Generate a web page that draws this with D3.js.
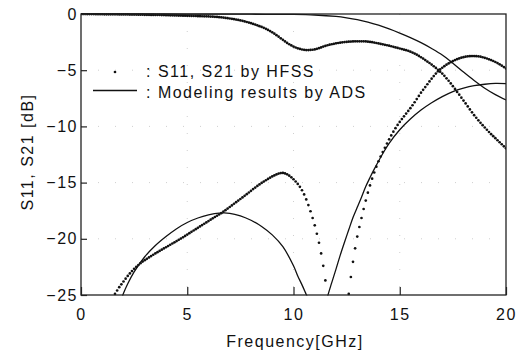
<!DOCTYPE html>
<html><head><meta charset="utf-8">
<script src="https://cdn.jsdelivr.net/npm/d3@7"></script>
<style>body{margin:0;background:#fff}svg{display:block}</style>
</head><body><svg id="c" width="526" height="354"></svg>
<script>
// ---- tick labels ----
const xTicks = [0, 5, 10, 15, 20];
const yTicks = [0, -5, -10, -15, -20, -25];

// ---- HFSS sweep (dots), 0.1 GHz step ----
const hfssStep = 0.1;
const hfssS21Start = 0.0;
const hfssS21 = [
  0, 0, 0, -0.01, -0.01, -0.01, -0.01, -0.02, -0.02, -0.02,
  -0.02, -0.03, -0.03, -0.03, -0.03, -0.03, -0.03, -0.03, -0.04, -0.04,
  -0.04, -0.04, -0.04, -0.05, -0.05, -0.05, -0.05, -0.06, -0.06, -0.06,
  -0.07, -0.07, -0.07, -0.08, -0.08, -0.09, -0.09, -0.09, -0.1, -0.1,
  -0.11, -0.11, -0.12, -0.12, -0.13, -0.13, -0.14, -0.14, -0.15, -0.15,
  -0.16, -0.16, -0.17, -0.18, -0.18, -0.19, -0.19, -0.2, -0.21, -0.21,
  -0.22, -0.23, -0.24, -0.25, -0.26, -0.28, -0.3, -0.32, -0.35, -0.37,
  -0.4, -0.43, -0.46, -0.5, -0.53, -0.57, -0.61, -0.66, -0.71, -0.76,
  -0.82, -0.88, -0.94, -1.01, -1.08, -1.15, -1.23, -1.32, -1.42, -1.52,
  -1.63, -1.75, -1.88, -2.02, -2.16, -2.3, -2.44, -2.57, -2.69, -2.8,
  -2.9, -2.98, -3.05, -3.11, -3.16, -3.19, -3.21, -3.21, -3.2, -3.18,
  -3.15, -3.1, -3.04, -2.97, -2.9, -2.84, -2.78, -2.73, -2.69, -2.65,
  -2.61, -2.58, -2.55, -2.52, -2.5, -2.48, -2.46, -2.45, -2.44, -2.43,
  -2.43, -2.43, -2.43, -2.43, -2.44, -2.46, -2.48, -2.51, -2.54, -2.58,
  -2.62, -2.66, -2.7, -2.74, -2.78, -2.82, -2.87, -2.92, -2.97, -3.02,
  -3.07, -3.12, -3.17, -3.22, -3.28, -3.35, -3.43, -3.52, -3.62, -3.73,
  -3.85, -3.97, -4.1, -4.23, -4.36, -4.5, -4.65, -4.8, -4.97, -5.13,
  -5.3, -5.5, -5.72, -5.94, -6.18, -6.42, -6.67, -6.93, -7.18, -7.44,
  -7.7, -7.96, -8.22, -8.49, -8.75, -9.0, -9.23, -9.46, -9.68, -9.89,
  -10.1, -10.3, -10.5, -10.69, -10.87, -11.05, -11.23, -11.41, -11.59, -11.77,
  -11.95
];
const hfssS11Start = 1.5;
const hfssS11 = [
  -25.2, -24.9, -24.6, -24.3, -24.05,
  -23.8, -23.55, -23.3, -23.08, -22.87, -22.67, -22.5, -22.33, -22.17, -22.03,
  -21.9, -21.78, -21.66, -21.54, -21.42, -21.3, -21.19, -21.08, -20.97, -20.86,
  -20.75, -20.64, -20.53, -20.42, -20.31, -20.2, -20.09, -19.98, -19.86, -19.74,
  -19.62, -19.5, -19.38, -19.26, -19.14, -19.02, -18.9, -18.78, -18.66, -18.54,
  -18.42, -18.3, -18.18, -18.06, -17.95, -17.84, -17.72, -17.59, -17.45, -17.31,
  -17.17, -17.03, -16.88, -16.74, -16.6, -16.46, -16.32, -16.18, -16.03, -15.88,
  -15.73, -15.58, -15.44, -15.3, -15.16, -15.03, -14.91, -14.79, -14.67, -14.56,
  -14.45, -14.36, -14.27, -14.2, -14.15, -14.14, -14.18, -14.26, -14.38, -14.53,
  -14.7, -14.9, -15.12, -15.38, -15.68, -16.05, -16.5, -17.0, -17.55, -18.15,
  -18.8, -19.55, -20.35, -21.3, -22.4, -23.7, -25.3, -27.0, -29.0, -31.0,
  -32.0, -31.5, -30.5, -29.5, -28.5, -26.6, -24.9, -23.4, -22.05, -20.85,
  -19.8, -18.95, -18.15, -17.35, -16.6, -15.9, -15.25, -14.65, -14.1, -13.58,
  -13.1, -12.68, -12.28, -11.9, -11.52, -11.15, -10.8, -10.47, -10.16, -9.87,
  -9.6, -9.35, -9.1, -8.86, -8.62, -8.38, -8.12, -7.85, -7.57, -7.29,
  -7.0, -6.75, -6.5, -6.25, -6.0, -5.75, -5.52, -5.3, -5.1, -4.93,
  -4.78, -4.64, -4.51, -4.4, -4.29, -4.19, -4.1, -4.02, -3.95, -3.89,
  -3.84, -3.8, -3.77, -3.75, -3.74, -3.74, -3.75, -3.77, -3.8, -3.85,
  -3.9, -3.96, -4.03, -4.1, -4.18, -4.27, -4.37, -4.48, -4.6, -4.72,
  -4.85
];

// ---- ADS model (lines) ----
const adsS21Freq = [0, 2, 4, 6, 8, 9, 10, 11, 12, 12.5, 13, 13.5, 14, 14.5, 15, 15.5, 16, 16.5, 17, 17.5, 18, 18.5, 19, 19.5, 20];
const adsS21 = [0, 0, 0, -0.01, -0.02, -0.03, -0.04, -0.09, -0.22, -0.34, -0.5, -0.72, -1.0, -1.33, -1.7, -2.1, -2.55, -3.07, -3.65, -4.38, -5.17, -5.92, -6.6, -7.17, -7.65];
const adsS11Freq = [1.8, 1.9, 2.0, 2.2, 2.5, 3.0, 3.5, 4.0, 4.5, 5.0, 5.5, 6.0, 6.5, 7.0, 7.5, 8.0, 8.5, 9.0, 9.5, 10.0, 10.2, 10.4, 10.6, 10.8, 11.0, 11.15, 11.3, 11.45, 11.6, 11.8, 12.0, 12.2, 12.4, 12.6, 12.8, 13.0, 13.2, 13.4, 13.6, 13.8, 14.0, 14.3, 14.5, 15.0, 15.5, 16.0, 16.5, 17.0, 17.5, 18.0, 18.5, 19.0, 19.5, 20.0];
const adsS11 = [-26.3, -25.4, -24.85, -24.0, -22.95, -21.6, -20.6, -19.8, -19.1, -18.55, -18.15, -17.88, -17.72, -17.73, -17.95, -18.35, -18.9, -19.65, -20.7, -22.4, -23.3, -24.1, -24.95, -25.8, -26.7, -27.4, -27.3, -26.3, -25.15, -23.9, -22.7, -21.45, -20.3, -19.2, -18.1, -17.2, -16.3, -15.35, -14.55, -13.8, -13.1, -12.1, -11.5, -10.3, -9.35, -8.55, -7.9, -7.35, -6.9, -6.6, -6.38, -6.25, -6.18, -6.2];

// ---- legend / labels ----
const legendLabels = [": S11, S21 by HFSS", ": Modeling results by ADS"];
const xTitle = "Frequency[GHz]";
const yTitle = "S11, S21 [dB]";

// ---------------------------------------------------------
const svg = d3.select('#c');
const P = {l: 81, t: 14, r: 506, b: 295};
const x = d3.scaleLinear().domain([0, 20]).range([P.l, P.r]);
const y = d3.scaleLinear().domain([-25, 0]).range([P.b, P.t]);
const ink = '#111';
const font = '"Liberation Sans", Arial, Helvetica, sans-serif';

svg.append('rect').attr('width', 526).attr('height', 354).attr('fill', '#fff');

// faint dotted grid
const grid = svg.append('g').attr('stroke', '#cfcfcf').attr('stroke-width', 1).attr('stroke-dasharray', '1,16');
grid.selectAll('line.v').data(xTicks.slice(1, -1)).join('line')
  .attr('x1', d => x(d)).attr('x2', d => x(d)).attr('y1', P.t).attr('y2', P.b);
grid.selectAll('line.h').data(yTicks.slice(1, -1)).join('line')
  .attr('y1', d => y(d)).attr('y2', d => y(d)).attr('x1', P.l).attr('x2', P.r);

svg.append('clipPath').attr('id', 'clip').append('rect')
  .attr('x', P.l).attr('y', P.t - 1).attr('width', P.r - P.l).attr('height', P.b - P.t + 1.5);

const plot = svg.append('g').attr('clip-path', 'url(#clip)');

// ADS lines
const line = d3.line().x(d => x(d[0])).y(d => y(d[1])).curve(d3.curveCatmullRom.alpha(0.5));
[[adsS21Freq, adsS21], [adsS11Freq, adsS11]].forEach(([f, v]) => {
  plot.append('path').datum(f.map((fr, i) => [fr, v[i]]))
    .attr('d', line).attr('fill', 'none').attr('stroke', ink).attr('stroke-width', 1.3);
});

// HFSS dots
[[hfssS21Start, hfssS21], [hfssS11Start, hfssS11]].forEach(([s, v]) => {
  const pts = v.map((d, i) => [s + i * hfssStep, d]).filter(d => d[1] >= -25.3);
  plot.append('g').selectAll('circle').data(pts).join('circle')
    .attr('cx', d => x(d[0])).attr('cy', d => y(d[1])).attr('r', 1.35).attr('fill', ink);
});

// frame
svg.append('rect').attr('x', P.l).attr('y', P.t).attr('width', P.r - P.l).attr('height', P.b - P.t)
  .attr('fill', 'none').attr('stroke', '#222').attr('stroke-width', 1.3);

// axes
const fmt = d3.format('d');
const xa = svg.append('g').attr('transform', `translate(0,${P.b})`)
  .call(d3.axisBottom(x).tickValues(xTicks).tickFormat(fmt).tickSizeInner(-8).tickSizeOuter(0).tickPadding(14));
const ya = svg.append('g').attr('transform', `translate(${P.l},0)`)
  .call(d3.axisLeft(y).tickValues(yTicks).tickFormat(fmt).tickSizeInner(-6).tickSizeOuter(0).tickPadding(3));
[xa, ya].forEach(a => {
  a.select('.domain').remove();
  a.selectAll('line').attr('stroke', '#222').attr('stroke-width', 1.2);
  a.selectAll('text').attr('font-family', font).attr('font-size', 16).attr('fill', ink)
    .style('letter-spacing', '1.5px');
});

// axis titles
svg.append('text').attr('x', 295).attr('y', 347).attr('text-anchor', 'middle')
  .attr('font-family', font).attr('font-size', 16).attr('fill', ink).style('letter-spacing', '1.5px')
  .text(xTitle);
svg.append('text').attr('transform', 'translate(33,152) rotate(-90)').attr('text-anchor', 'middle')
  .attr('font-family', font).attr('font-size', 16).attr('fill', ink).style('letter-spacing', '1.5px')
  .text(yTitle);

// legend
const lg = svg.append('g');
lg.append('circle').attr('cx', 115).attr('cy', 72).attr('r', 1.35).attr('fill', ink);
lg.append('line').attr('x1', 93).attr('x2', 137).attr('y1', 90.5).attr('y2', 90.5)
  .attr('stroke', ink).attr('stroke-width', 1.3);
lg.selectAll('text').data(legendLabels).join('text')
  .attr('x', 146).attr('y', (d, i) => 77 + i * 20.5)
  .attr('font-family', font).attr('font-size', 16).attr('fill', ink).style('letter-spacing', '1.5px')
  .text(d => d);
</script>
</body></html>
